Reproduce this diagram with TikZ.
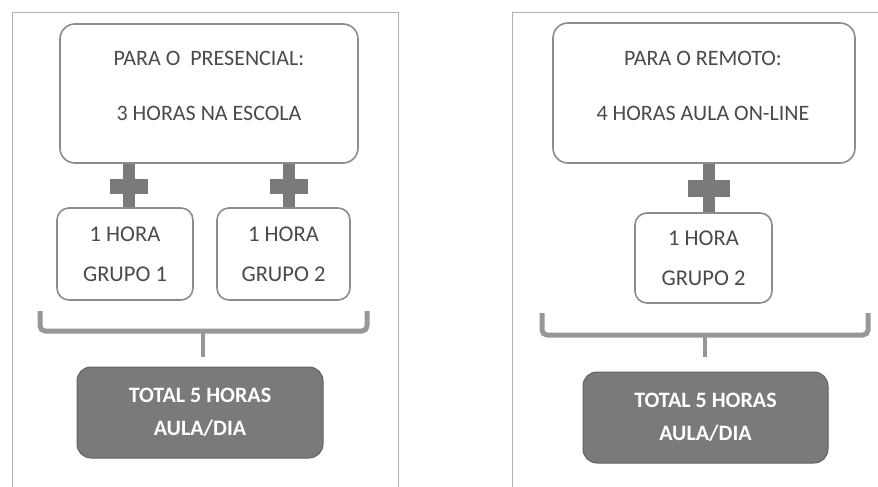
\documentclass[tikz,border=0pt]{standalone}
\usepackage{fontspec}
\setmainfont{Carlito}
\definecolor{txtc}{HTML}{4A4A4A}
\definecolor{linec}{HTML}{8C8C8C}
\definecolor{plusc}{HTML}{7A7A7A}
\definecolor{totc}{HTML}{7A7A7A}
\definecolor{framec}{HTML}{B0B0B0}
\begin{document}
\begin{tikzpicture}[x=1pt,y=-1pt,
  boxbase/.style={draw=linec,line width=1.6pt,rounded corners=15pt,fill=white,inner sep=0pt},
  bigbox/.style={boxbase},
  smallbox/.style={boxbase,rounded corners=12pt,text=txtc,align=center,font=\fontsize{22.5}{40}\selectfont},
  txt/.style={text=txtc,font=\fontsize{22}{24}\selectfont,inner sep=0pt},
  totbox/.style={fill=totc,draw=totc!80!black,line width=1pt,rounded corners=14pt,text=white,align=center,font=\bfseries\fontsize{22}{33}\selectfont,inner sep=0pt},
  stem/.style={draw=plusc,line width=12pt},
  crossbar/.style={fill=plusc,draw=none,minimum width=38pt,minimum height=15pt,inner sep=0pt},
  bracec/.style={draw=linec!90,line width=5pt,rounded corners=5pt},
  tick/.style={draw=linec!90,line width=4.5pt},
  framel/.style={draw=framec,line width=0.9pt}
]
\useasboundingbox (0,0) rectangle (878,487);

% frames
\coordinate (fl1) at (12,487);
\coordinate (fl2) at (12,12);
\coordinate (fl3) at (398,12);
\coordinate (fl4) at (398,487);
\draw[framel] (fl1) -- (fl2) -- (fl3) -- (fl4);
\coordinate (fr1) at (512,487);
\coordinate (fr2) at (512,12);
\coordinate (fr3) at (878,12);
\draw[framel] (fr1) -- (fr2) -- (fr3);

% ---------- left panel ----------
\node[bigbox,minimum width=298pt,minimum height=139pt] (p1) at (209,93.5) {};
\node[txt] (p1a) at (209,58) {PARA O\ \ PRESENCIAL:};
\node[txt] (p1b) at (209,113) {3 HORAS NA ESCOLA};

\node[smallbox,minimum width=136pt,minimum height=92pt] (g1) at (125,254) {1 HORA\\GRUPO 1};
\node[smallbox,minimum width=133pt,minimum height=92pt] (g2) at (283.5,254) {1 HORA\\GRUPO 2};

\coordinate (x1) at (129,0);
\coordinate (x2) at (289,0);
\draw[stem] (p1.south -| x1) -- (g1.north -| x1);
\draw[stem] (p1.south -| x2) -- (g2.north -| x2);
\node[crossbar] (c1) at (129,186) {};
\node[crossbar] (c2) at (289,186) {};

\coordinate (b1a) at (40,311);
\coordinate (b1b) at (40,331);
\coordinate (b1c) at (367,331);
\coordinate (b1d) at (367,311);
\coordinate (b1m) at (203,331);
\draw[bracec] (b1a) -- (b1b) -- (b1c) -- (b1d);

\node[totbox,minimum width=246pt,minimum height=91pt] (t1) at (200,412.5) {TOTAL 5 HORAS\\AULA/DIA};
\draw[tick] (b1m) -- (b1m |- 0,357);

% ---------- right panel ----------
\node[bigbox,minimum width=302pt,minimum height=140pt] (p2) at (704,93) {};
\node[txt] (p2a) at (703,58) {PARA O REMOTO:};
\node[txt] (p2b) at (703,113) {4 HORAS AULA ON-LINE};

\node[smallbox,minimum width=137pt,minimum height=90pt] (g3) at (703.5,258) {1 HORA\\GRUPO 2};

\coordinate (x3) at (709,0);
\draw[stem] (p2.south -| x3) -- (g3.north -| x3);
\node[crossbar,minimum width=42pt,minimum height=17pt] (c3) at (709,188) {};

\coordinate (b2a) at (542,313);
\coordinate (b2b) at (542,335);
\coordinate (b2c) at (868,335);
\coordinate (b2d) at (868,313);
\coordinate (b2m) at (705,335);
\draw[bracec] (b2a) -- (b2b) -- (b2c) -- (b2d);
\draw[tick] (b2m) -- (b2m |- 0,357);

\node[totbox,minimum width=245pt,minimum height=91pt] (t2) at (705.5,417.5) {TOTAL 5 HORAS\\AULA/DIA};
\end{tikzpicture}
\end{document}
